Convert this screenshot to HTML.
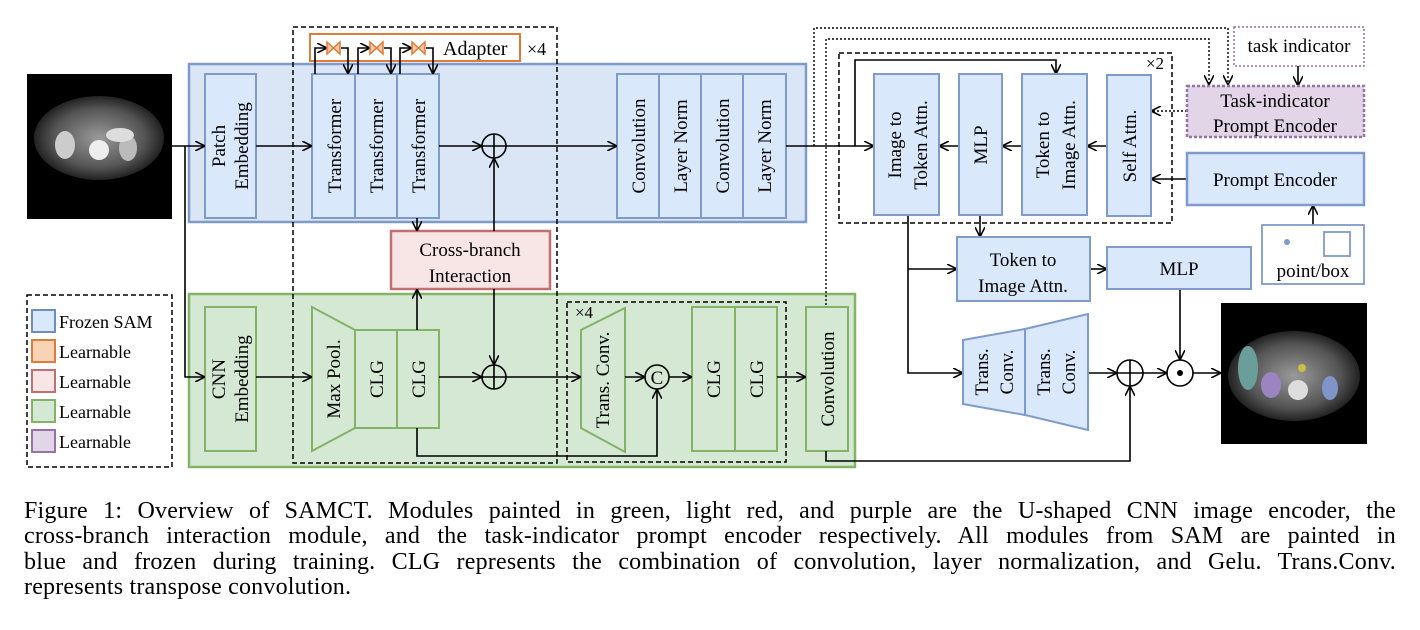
<!DOCTYPE html>
<html><head><meta charset="utf-8"><style>
html,body{margin:0;padding:0;background:#fff;}
svg{display:block;}
text{font-family:"Liberation Serif",serif;fill:#000;}
.cap{position:absolute;left:24px;width:1372px;font-family:"Liberation Serif",serif;font-size:24px;letter-spacing:0.2px;line-height:25.3px;top:499px;}
.cap div{text-align:justify;text-align-last:justify;white-space:nowrap;}
.cap div.l{text-align-last:left;}
</style></head><body>
<div style="position:relative;width:1420px;height:630px;overflow:hidden;">
<svg width="1420" height="630" viewBox="0 0 1420 630">
<defs>
<marker id="a" markerWidth="10" markerHeight="10" refX="9" refY="5" orient="auto" markerUnits="userSpaceOnUse">
<path d="M0,0 L10,5 L0,10" fill="none" stroke="#000" stroke-width="1.6"/></marker>
<radialGradient id="ct" cx="50%" cy="50%" r="50%"><stop offset="0" stop-color="#9a9a9a"/><stop offset="0.7" stop-color="#555"/><stop offset="1" stop-color="#222"/></radialGradient>
</defs>
<g stroke-width="2">
<rect x="27" y="74" width="145" height="145" fill="#000"/>
<ellipse cx="99" cy="138" rx="65" ry="42" fill="url(#ct)"/>
<ellipse cx="65" cy="145" rx="10" ry="14" fill="#ccc"/><ellipse cx="128" cy="148" rx="9" ry="13" fill="#bbb"/>
<ellipse cx="99" cy="150" rx="10" ry="10" fill="#eee"/><ellipse cx="120" cy="135" rx="14" ry="7" fill="#ddd"/>
<rect x="27" y="295" width="145" height="172" fill="none" stroke="#000" stroke-width="1.5" stroke-dasharray="5,3"/>
<rect x="32" y="310" width="23" height="22" fill="#dae8fc" stroke="#6c8ebf"/>
<rect x="32" y="340" width="23" height="22" fill="#f8d3b5" stroke="#e07b39"/>
<rect x="32" y="370" width="23" height="22" fill="#f8e6e6" stroke="#c07070"/>
<rect x="32" y="400" width="23" height="22" fill="#d5e8d4" stroke="#82b366"/>
<rect x="32" y="430" width="23" height="22" fill="#e1d5e7" stroke="#9673a6"/>
<g font-size="18"><text x="59" y="328">Frozen SAM</text><text x="59" y="358">Learnable</text><text x="59" y="388">Learnable</text><text x="59" y="418">Learnable</text><text x="59" y="448">Learnable</text></g>

<rect x="189" y="64" width="617" height="158" fill="#dae5f6" stroke="#7f9bcb" stroke-width="2.5"/>
<rect x="189" y="294" width="666" height="173" fill="#d5e8d4" stroke="#82b366" stroke-width="2.5"/>

<g fill="#dae8fc" stroke="#7f9bcb">
<rect x="205" y="74" width="51" height="144"/>
<rect x="312" y="74" width="43" height="144"/><rect x="355" y="74" width="42" height="144"/><rect x="397" y="74" width="42" height="144"/>
<rect x="617" y="74" width="42" height="144"/><rect x="659" y="74" width="42" height="144"/><rect x="701" y="74" width="42" height="144"/><rect x="743" y="74" width="43" height="144"/>
</g>
<g fill="#d5e8d4" stroke="#82b366">
<rect x="205" y="307" width="51" height="144"/>
<path d="M312,307 L355,330 L355,428 L312,451 Z"/>
<rect x="355" y="330" width="42" height="98"/><rect x="397" y="330" width="42" height="98"/>
<path d="M581,330 L625,308 L625,452 L581,428 Z"/>
<rect x="692" y="307" width="43" height="144"/><rect x="735" y="307" width="42" height="144"/>
<rect x="806" y="307" width="42" height="144"/>
</g>
<rect x="391" y="231" width="159" height="58" fill="#f8e6e6" stroke="#c07070" stroke-width="2.5"/>
<rect x="310" y="34" width="210" height="27" fill="#fff" stroke="#e07b39" stroke-width="2"/>

<g fill="none" stroke="#000" stroke-width="1.5" stroke-dasharray="5,3">
<rect x="293" y="27" width="264" height="436"/>
<rect x="567" y="302" width="219" height="160"/>
<rect x="839" y="53" width="333" height="170"/>
</g>

<g fill="none" stroke="#000" stroke-width="1.6">
<path d="M315,74 V48 H326" marker-end="url(#a)"/><path d="M341,48 H348 V73" marker-end="url(#a)"/>
<path d="M358,74 V48 H369" marker-end="url(#a)"/><path d="M384,48 H391 V73" marker-end="url(#a)"/>
<path d="M400,74 V48 H411" marker-end="url(#a)"/><path d="M426,48 H433 V73" marker-end="url(#a)"/>
</g>
<g fill="#f7c9a3" stroke="#e07b39" stroke-width="1.5">
<path d="M327,42 L340,54 L340,42 L327,54 Z"/><path d="M370,42 L383,54 L383,42 L370,54 Z"/><path d="M412,42 L425,54 L425,42 L412,54 Z"/>
</g>
<text x="443" y="55" font-size="20">Adapter</text><text x="527" y="55" font-size="18">×4</text>

<g fill="none" stroke="#000" stroke-width="1.6">
<circle cx="494" cy="146" r="12"/><path d="M482,146 H506 M494,134 V158"/>
<circle cx="494" cy="377" r="12"/><path d="M482,377 H506 M494,365 V389"/>
<circle cx="657" cy="377" r="12"/>
<circle cx="1130" cy="373" r="13"/><path d="M1117,373 H1143 M1130,360 V386"/>
<circle cx="1180" cy="373" r="13"/>
</g>
<text x="657" y="384" font-size="19" text-anchor="middle">C</text>
<circle cx="1180" cy="373" r="3" fill="#000"/>

<g fill="none" stroke="#000" stroke-width="1.6">
<path d="M172,146 H204" marker-end="url(#a)"/>
<path d="M185,146 V377 H204" marker-end="url(#a)"/>
<path d="M256,146 H311" marker-end="url(#a)"/>
<path d="M256,377 H311" marker-end="url(#a)"/>
<path d="M439,146 H481" marker-end="url(#a)"/>
<path d="M506,146 H616" marker-end="url(#a)"/>
<path d="M417,218 V230" marker-end="url(#a)"/>
<path d="M494,231 V159" marker-end="url(#a)"/>
<path d="M417,330 V290" marker-end="url(#a)"/>
<path d="M494,289 V364" marker-end="url(#a)"/>
<path d="M439,377 H481" marker-end="url(#a)"/>
<path d="M506,377 H580" marker-end="url(#a)"/>
<path d="M625,377 H644" marker-end="url(#a)"/>
<path d="M669,377 H691" marker-end="url(#a)"/>
<path d="M777,377 H805" marker-end="url(#a)"/>
<path d="M417,428 V456 H657 V390" marker-end="url(#a)"/>
<path d="M786,146 H873" marker-end="url(#a)"/>
<path d="M855,146 V60 H1056 V73" marker-end="url(#a)"/>
<path d="M959,146 H940" marker-end="url(#a)"/>
<path d="M1022,146 H1003" marker-end="url(#a)"/>
<path d="M1107,146 H1088" marker-end="url(#a)"/>
<path d="M1187,179 H1152" marker-end="url(#a)"/>
<path d="M980,215 V236" marker-end="url(#a)"/>
<path d="M908,215 V373 H962" marker-end="url(#a)"/>
<path d="M908,269 H956" marker-end="url(#a)"/>
<path d="M1090,269 H1106" marker-end="url(#a)"/>
<path d="M1088,373 H1116" marker-end="url(#a)"/>
<path d="M1143,373 H1166" marker-end="url(#a)"/>
<path d="M1193,373 H1220" marker-end="url(#a)"/>
<path d="M1180,289 V359" marker-end="url(#a)"/>
<path d="M826,451 V461 H1130 V387" marker-end="url(#a)"/>
<path d="M1313,225 V206" marker-end="url(#a)"/>
<path d="M1298,66 V85" marker-end="url(#a)"/>
</g>
<g fill="none" stroke="#000" stroke-width="1.4" stroke-dasharray="2,2">
<path d="M814,146 V28 H1228 V84" marker-end="url(#a)"/>
<path d="M826,305 V39 H1209 V84" marker-end="url(#a)"/>
<path d="M1187,111 H1152" marker-end="url(#a)"/>
</g>

<g fill="#dae8fc" stroke="#7f9bcb">
<rect x="874" y="74" width="65" height="141"/><rect x="959" y="74" width="43" height="141"/>
<rect x="1022" y="74" width="65" height="141"/><rect x="1107" y="75" width="44" height="141"/>
<rect x="957" y="237" width="133" height="64"/><rect x="1107" y="247" width="144" height="42"/>
<rect x="1187" y="153" width="177" height="52" stroke-width="2.5"/>
<path d="M963,340 L1025,329 L1025,415 L963,404 Z"/><path d="M1025,329 L1088,314 L1088,430 L1025,415 Z"/>
</g>
<rect x="1187" y="86" width="177" height="51" fill="#e1d5e7" stroke="#9673a6" stroke-width="2.5" stroke-dasharray="3,2"/>
<rect x="1234" y="27" width="130" height="39" fill="#fff" stroke="#9673a6" stroke-width="1.5" stroke-dasharray="2,2"/>
<rect x="1262" y="225" width="102" height="59" fill="#fff" stroke="#7f9bcb" stroke-width="1.8"/>
<circle cx="1287" cy="242" r="3" fill="#7f9bcb"/>
<rect x="1324" y="232" width="26" height="24" fill="#fff" stroke="#7f9bcb" stroke-width="1.8"/>
<text x="1313" y="277" font-size="19" text-anchor="middle">point/box</text>
<text x="1299" y="52" font-size="19" text-anchor="middle">task indicator</text>
<text x="1275" y="107" font-size="19" text-anchor="middle">Task-indicator</text>
<text x="1275" y="132" font-size="19" text-anchor="middle">Prompt Encoder</text>
<text x="1275" y="186" font-size="19" text-anchor="middle">Prompt Encoder</text>
<text x="1023" y="266" font-size="19" text-anchor="middle">Token to</text>
<text x="1023" y="292" font-size="19" text-anchor="middle">Image Attn.</text>
<text x="1179" y="275" font-size="19" text-anchor="middle">MLP</text>
<text x="1155" y="69" font-size="17" text-anchor="middle">×2</text>
<text x="584" y="318" font-size="17" text-anchor="middle">×4</text>
</g>
<text x="470" y="256" font-size="19" text-anchor="middle">Cross-branch</text>
<text x="470" y="282" font-size="19" text-anchor="middle">Interaction</text>

<rect x="1221" y="303" width="146" height="141" fill="#000"/>
<ellipse cx="1294" cy="376" rx="66" ry="45" fill="url(#ct)"/>
<ellipse cx="1248" cy="368" rx="10" ry="22" fill="#6a9e98"/>
<ellipse cx="1271" cy="385" rx="10" ry="13" fill="#9a85c0"/>
<ellipse cx="1330" cy="388" rx="8" ry="12" fill="#7f95c8"/>
<circle cx="1302" cy="368" r="4" fill="#c8c040"/>
<ellipse cx="1298" cy="390" rx="10" ry="10" fill="#ddd"/>

<g font-size="19" text-anchor="middle">
<text transform="translate(225,146) rotate(-90)">Patch</text>
<text transform="translate(248,146) rotate(-90)">Embedding</text>
<text transform="translate(341,146) rotate(-90)">Transformer</text>
<text transform="translate(383,146) rotate(-90)">Transformer</text>
<text transform="translate(425,146) rotate(-90)">Transformer</text>
<text transform="translate(645,146) rotate(-90)">Convolution</text>
<text transform="translate(687,146) rotate(-90)">Layer Norm</text>
<text transform="translate(729,146) rotate(-90)">Convolution</text>
<text transform="translate(771,146) rotate(-90)">Layer Norm</text>
<text transform="translate(225,379) rotate(-90)">CNN</text>
<text transform="translate(248,379) rotate(-90)">Embedding</text>
<text transform="translate(340,379) rotate(-90)">Max Pool.</text>
<text transform="translate(383,379) rotate(-90)">CLG</text>
<text transform="translate(425,379) rotate(-90)">CLG</text>
<text transform="translate(609,380) rotate(-90)">Trans. Conv.</text>
<text transform="translate(720,379) rotate(-90)">CLG</text>
<text transform="translate(763,379) rotate(-90)">CLG</text>
<text transform="translate(834,379) rotate(-90)">Convolution</text>
<text transform="translate(901,145) rotate(-90)">Image to</text>
<text transform="translate(927,145) rotate(-90)">Token Attn.</text>
<text transform="translate(987,145) rotate(-90)">MLP</text>
<text transform="translate(1049,145) rotate(-90)">Token to</text>
<text transform="translate(1075,145) rotate(-90)">Image Attn.</text>
<text transform="translate(1136,146) rotate(-90)">Self Attn.</text>
<text transform="translate(988,372) rotate(-90)">Trans.</text>
<text transform="translate(1013,372) rotate(-90)">Conv.</text>
<text transform="translate(1050,372) rotate(-90)">Trans.</text>
<text transform="translate(1075,372) rotate(-90)">Conv.</text>
</g>
</svg>
<div class="cap">
<div>Figure 1: Overview of SAMCT. Modules painted in green, light red, and purple are the U-shaped CNN image encoder, the</div>
<div>cross-branch interaction module, and the task-indicator prompt encoder respectively. All modules from SAM are painted in</div>
<div>blue and frozen during training. CLG represents the combination of convolution, layer normalization, and Gelu. Trans.Conv.</div>
<div class="l">represents transpose convolution.</div>
</div>
</div>
</body></html>
